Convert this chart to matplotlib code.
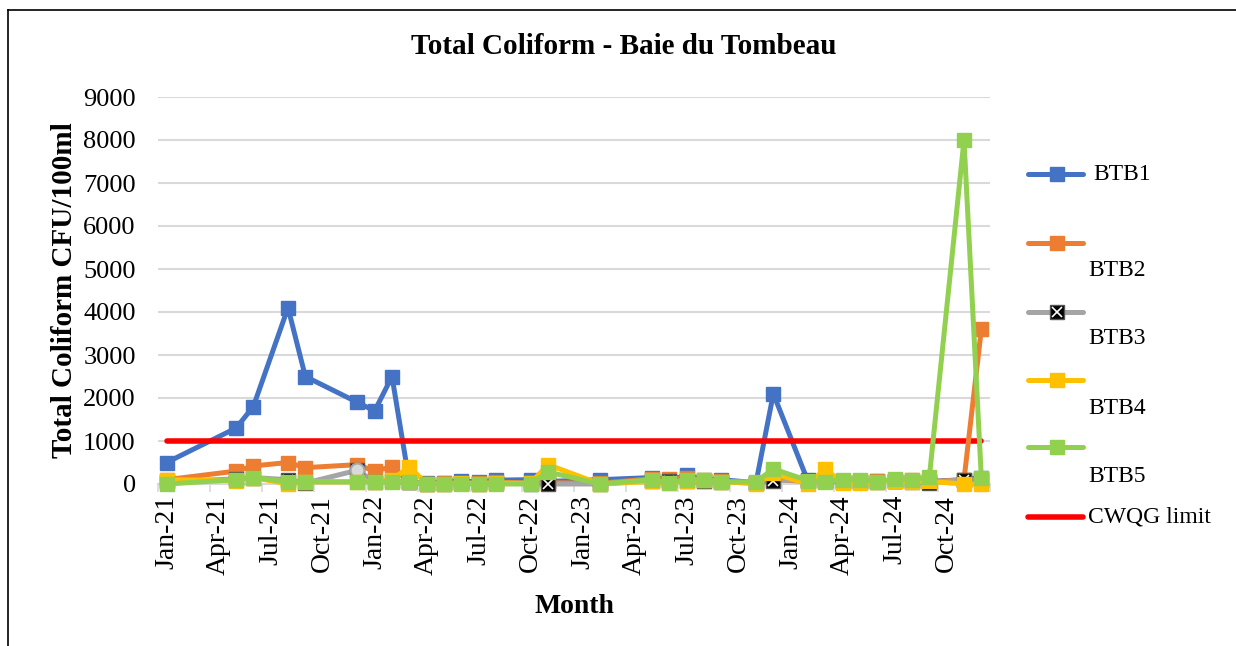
import matplotlib
matplotlib.use("Agg")
import matplotlib.pyplot as plt
from matplotlib.lines import Line2D

# ---------------- data ----------------
months = ["2021-01", "2021-05", "2021-06", "2021-08", "2021-09", "2021-12",
          "2022-01", "2022-02", "2022-03", "2022-04", "2022-05", "2022-06",
          "2022-07", "2022-08", "2022-10", "2022-11", "2023-02", "2023-05",
          "2023-06", "2023-07", "2023-08", "2023-09", "2023-11", "2023-12",
          "2024-02", "2024-03", "2024-04", "2024-05", "2024-06", "2024-07",
          "2024-08", "2024-09", "2024-11", "2024-12"]

btb1 = [500, 1300, 1800, 4100, 2500, 1900, 1700, 2500, 50, 20, 30, 80,
        40, 90, 100, 60, 100, 150, 100, 200, 100, 100, 30, 2100,
        60, 80, 60, 50, 80, 60, 80, 60, 100, 150]
btb2 = [100, 300, 420, 500, 380, 450, 300, 400, 50, 10, 20, 30,
        20, 40, 20, 30, 20, 120, 120, 150, 80, 60, 30, 100,
        60, 100, 50, 60, 70, 80, 90, 50, 100, 3600]
btb3 = [50, 120, 150, 100, 20, 320, 50, 60, 40, 10, 10, 20,
        10, 20, 10, 0, 0, 80, 60, 80, 60, 50, 20, 80,
        100, 60, 40, 40, 50, 60, 50, 30, 100, 100]
btb4 = [100, 80, 150, 0, 50, 50, 50, 100, 400, 0, 10, 20,
        10, 20, 20, 450, 0, 60, 20, 60, 100, 50, 10, 250,
        0, 350, 20, 30, 40, 60, 50, 60, 0, 0]
btb5 = [0, 100, 150, 50, 50, 50, 50, 50, 50, 0, 0, 0,
        0, 0, 0, 280, 0, 100, 20, 100, 100, 50, 50, 350,
        80, 50, 100, 100, 50, 120, 100, 160, 8000, 150]
limit = 1000

tick_labels = ["Jan-21", "Apr-21", "Jul-21", "Oct-21", "Jan-22", "Apr-22",
               "Jul-22", "Oct-22", "Jan-23", "Apr-23", "Jul-23", "Oct-23",
               "Jan-24", "Apr-24", "Jul-24", "Oct-24"]
series_names = ["BTB1", "BTB2", "BTB3", "BTB4", "BTB5"]
colors = ["#4472C4", "#ED7D31", "#A5A5A5", "#FFC000", "#92D050"]

# month index since Jan 2021
def midx(s):
    y, m = s.split("-")
    return (int(y) - 2021) * 12 + int(m) - 1

x = [midx(m) for m in months]

# ---------------- figure ----------------
W, H = 1236, 646
fig = plt.figure(figsize=(W / 100, H / 100), dpi=100)
plt.rcParams['font.family'] = ['Liberation Serif', 'DejaVu Serif']

def fx(px):
    return px / W

def fy(py):
    return 1 - py / H

ax = fig.add_axes([fx(158), fy(484), fx(990) - fx(158), fy(97) - fy(484)])

lw = 3.6
ms = 10
series = [btb1, btb2, btb3, btb4, btb5]
z = [2, 4, 5, 6, 7]
for vals, name, col, zz in zip(series, series_names, colors, z):
    if name == "BTB3":
        ax.plot(x, vals, color=col, lw=lw, marker='s', ms=ms, mfc='black',
                mec='#555555', zorder=zz, clip_on=False, solid_capstyle='round')
        ax.plot(x, vals, ls='none', marker='x', ms=ms * 0.7, mec='white',
                mew=1.2, zorder=zz + 0.1, clip_on=False)
        # one point drawn as grey circle
        i = vals.index(max(vals))
        ax.plot([x[i]], [vals[i]], ls='none', marker='o', ms=ms, mfc='#D9D9D9',
                mec='#A5A5A5', mew=1.5, zorder=zz + 0.2, clip_on=False)
    else:
        ax.plot(x, vals, color=col, lw=lw, marker='s', ms=ms, mfc=col, mec=col,
                zorder=zz, clip_on=False, solid_capstyle='round')

ax.plot([x[0], x[-1]], [limit, limit], color='#FF0000', lw=4, zorder=3,
        solid_capstyle='round')

ax.set_xlim(-0.5, 47.5)
ax.set_ylim(0, 9000)
ax.set_yticks(range(0, 9001, 1000))
ax.set_yticklabels([str(v) for v in range(0, 9001, 1000)], fontsize=19)
ax.set_xticks(range(0, 48, 3))
ax.set_xticklabels(tick_labels, rotation=90, fontsize=20)
ax.set_xticks([k - 0.5 for k in range(0, 49, 3)], minor=True)
ax.tick_params(axis='x', which='major', length=0, pad=8)
ax.tick_params(axis='x', which='minor', length=6, color='#D9D9D9', width=1.2)
ax.tick_params(axis='y', length=0, pad=16)
ax.grid(axis='y', color='#D9D9D9', lw=1.5, zorder=0)
ax.set_axisbelow(True)
for s in ['top', 'right', 'left']:
    ax.spines[s].set_visible(False)
ax.spines['bottom'].set_color('#D9D9D9')
ax.spines['bottom'].set_linewidth(1.5)

ax.set_xlabel("Month", fontsize=20, fontweight='bold', labelpad=14)
ax.set_ylabel("Total Coliform CFU/100ml", fontsize=21, fontweight='bold', labelpad=4)

fig.text(fx(624), fy(47), "Total Coliform - Baie du Tombeau", fontsize=21,
         fontweight='bold', ha='center', va='center')

# ---------------- legend (manual, Excel-like layout) ----------------
leg_line_y = [174, 243, 312, 380, 447]
leg_text_y = [174, 271, 339, 408, 477]
leg_text_x = [1093, 1088, 1088, 1088, 1088]
for k, (name, col) in enumerate(zip(series_names, colors)):
    yy = fy(leg_line_y[k])
    fig.add_artist(Line2D([fx(1028), fx(1083)], [yy, yy], color=col, lw=3.6,
                          solid_capstyle='round'))
    if name == "BTB3":
        fig.add_artist(Line2D([fx(1057)], [yy], ls='none', marker='s', ms=10,
                              mfc='black', mec='#555555'))
        fig.add_artist(Line2D([fx(1057)], [yy], ls='none', marker='x', ms=7,
                              mec='white', mew=1.2))
    else:
        fig.add_artist(Line2D([fx(1057)], [yy], ls='none', marker='s', ms=10,
                              mfc=col, mec=col))
    fig.text(fx(leg_text_x[k]), fy(leg_text_y[k]), name, fontsize=17,
             ha='left', va='center')
yy = fy(517)
fig.add_artist(Line2D([fx(1028), fx(1083)], [yy, yy], color='#FF0000', lw=4,
                      solid_capstyle='round'))
fig.text(fx(1088), yy, "CWQG limit", fontsize=17, ha='left', va='center')

# border of the chart area
fig.add_artist(Line2D([fx(8), fx(8)], [fy(10), 0], color='black', lw=1.2))
fig.add_artist(Line2D([fx(8), 1], [fy(10), fy(10)], color='black', lw=1.2))

fig.savefig("out.png", dpi=100)
